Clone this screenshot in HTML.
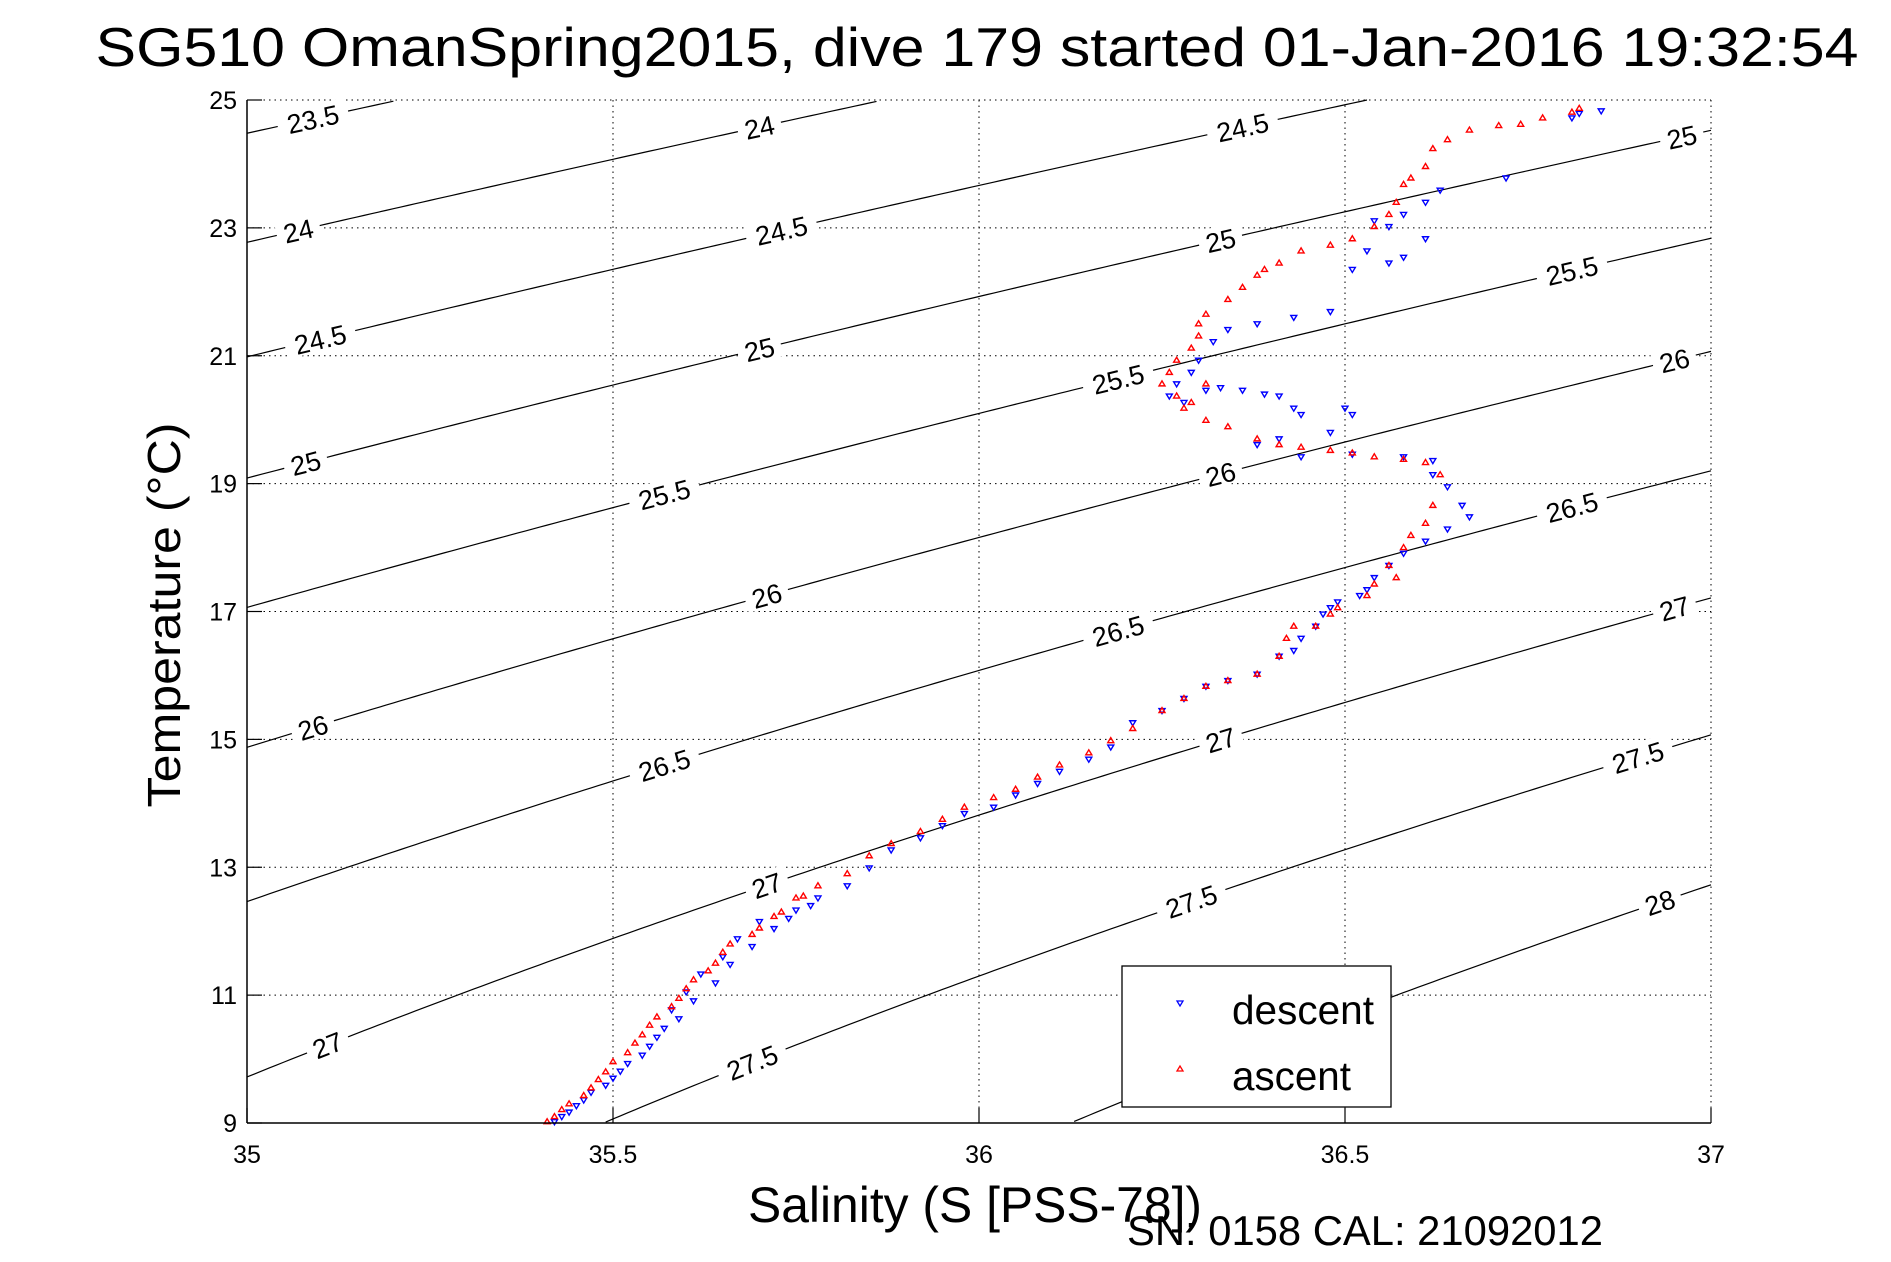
<!DOCTYPE html>
<html><head><meta charset="utf-8"><style>
html,body{margin:0;padding:0;background:#fff;}
svg{display:block;font-family:"Liberation Sans",sans-serif;}
</style></head><body>
<svg id="chart" width="1891" height="1262" viewBox="0 0 1891 1262">
<rect width="1891" height="1262" fill="#fff"/>
<text x="977" y="66" font-size="55" text-anchor="middle" textLength="1763" lengthAdjust="spacingAndGlyphs">SG510 OmanSpring2015, dive 179 started 01-Jan-2016 19:32:54</text>
<g id="grid"></g>
<g id="contours"></g>
<g id="series"></g>
<g id="axes"></g>
<text x="748" y="1222" font-size="50" textLength="454" lengthAdjust="spacingAndGlyphs">Salinity (S [PSS-78])</text>
<text transform="translate(180,615) rotate(-90)" font-size="46" text-anchor="middle" textLength="385" lengthAdjust="spacingAndGlyphs">Temperature (°C)</text>
<text x="1127" y="1245" font-size="42" textLength="476" lengthAdjust="spacingAndGlyphs">SN: 0158  CAL: 21092012</text>
<g>
<rect x="1122" y="966" width="269" height="141" fill="#fff" stroke="#000" stroke-width="1.3"/>
<polygon points="1177,1001 1183,1001 1180,1006" fill="none" stroke="#00f" stroke-width="1.3"/>
<text x="1232" y="1024" font-size="41" textLength="142" lengthAdjust="spacingAndGlyphs">descent</text>
<polygon points="1177,1071 1183,1071 1180,1066" fill="none" stroke="#f00" stroke-width="1.3"/>
<text x="1232" y="1090" font-size="41" textLength="119" lengthAdjust="spacingAndGlyphs">ascent</text>
</g>
</svg>
<script>
const xTicks=[35,35.5,36,36.5,37];
const xTickLabels=["35","35.5","36","36.5","37"];
const yTicks=[9,11,13,15,17,19,21,23,25];
const yTickLabels=["9","11","13","15","17","19","21","23","25"];
const sigmaLevels=[23.5,24,24.5,25,25.5,26,26.5,27,27.5,28];
const sigmaLabelS=[[35.09],[35.07,35.70],[35.10,35.73,36.36],[35.08,35.70,36.33,36.96],[35.57,36.19,36.81],[35.09,35.71,36.33,36.95],[35.57,36.19,36.81],[35.11,35.71,36.33,36.95],[35.69,36.29,36.90],[36.93]];
const descentS=[36.85,36.82,36.81,36.72,36.63,36.61,36.58,36.56,36.54,36.61,36.58,36.56,36.53,36.51,36.48,36.43,36.38,36.34,36.32,36.30,36.29,36.27,36.26,36.28,36.31,36.33,36.36,36.39,36.41,36.43,36.44,36.48,36.50,36.51,36.41,36.38,36.44,36.51,36.58,36.62,36.62,36.64,36.66,36.67,36.64,36.61,36.58,36.56,36.54,36.53,36.52,36.49,36.48,36.47,36.46,36.44,36.43,36.41,36.38,36.34,36.31,36.28,36.25,36.21,36.18,36.15,36.11,36.08,36.05,36.02,35.98,35.95,35.92,35.88,35.85,35.82,35.78,35.75,35.72,35.69,35.66,35.64,35.61,35.59,35.56,35.54,35.51,35.49,35.46,35.44,35.42,
35.43,35.45,35.47,35.50,35.52,35.55,35.57,35.58,35.60,35.62,35.65,35.67,35.70,35.74,35.77];
const descentT=[24.83,24.79,24.72,23.78,23.59,23.40,23.21,23.02,23.11,22.83,22.54,22.45,22.64,22.35,21.69,21.60,21.50,21.41,21.22,20.93,20.74,20.56,20.37,20.27,20.46,20.50,20.46,20.40,20.37,20.18,20.08,19.80,20.18,20.08,19.70,19.61,19.42,19.46,19.42,19.36,19.14,18.95,18.66,18.48,18.29,18.10,17.91,17.72,17.53,17.34,17.25,17.15,17.06,16.96,16.77,16.58,16.39,16.30,16.02,15.92,15.83,15.64,15.45,15.26,14.88,14.69,14.50,14.31,14.13,13.94,13.84,13.65,13.46,13.27,12.99,12.71,12.52,12.33,12.04,11.76,11.48,11.19,10.91,10.63,10.34,10.06,9.81,9.59,9.36,9.17,9.02,
9.10,9.27,9.48,9.70,9.93,10.20,10.48,10.77,11.05,11.33,11.60,11.88,12.15,12.20,12.40];
const ascentS=[36.82,36.81,36.77,36.74,36.71,36.67,36.64,36.62,36.61,36.59,36.58,36.57,36.56,36.54,36.51,36.48,36.44,36.41,36.39,36.38,36.36,36.34,36.31,36.30,36.30,36.29,36.27,36.26,36.25,36.27,36.29,36.31,36.28,36.31,36.34,36.38,36.41,36.44,36.48,36.51,36.54,36.58,36.61,36.63,36.62,36.61,36.59,36.58,36.56,36.57,36.54,36.53,36.49,36.48,36.46,36.43,36.42,36.41,36.38,36.34,36.31,36.28,36.25,36.21,36.18,36.15,36.11,36.08,36.05,36.02,35.98,35.95,35.92,35.88,35.85,35.82,35.78,35.75,35.72,35.69,35.65,35.63,35.60,35.58,35.55,35.53,35.50,35.48,35.46,35.43,35.41,
35.42,35.44,35.47,35.49,35.52,35.54,35.56,35.59,35.61,35.64,35.66,35.70,35.73,35.76];
const ascentT=[24.87,24.81,24.72,24.62,24.60,24.53,24.38,24.24,23.96,23.78,23.68,23.40,23.21,23.02,22.83,22.73,22.64,22.45,22.35,22.26,22.07,21.88,21.65,21.50,21.31,21.12,20.93,20.74,20.56,20.37,20.27,20.56,20.18,19.99,19.89,19.70,19.61,19.57,19.52,19.48,19.42,19.38,19.33,19.14,18.66,18.38,18.19,18.00,17.72,17.53,17.43,17.25,17.06,16.96,16.77,16.77,16.58,16.30,16.02,15.92,15.83,15.64,15.45,15.17,14.98,14.79,14.60,14.41,14.22,14.09,13.94,13.75,13.56,13.37,13.18,12.90,12.71,12.52,12.23,11.95,11.67,11.38,11.10,10.82,10.53,10.25,9.96,9.68,9.43,9.21,9.02,
9.10,9.30,9.55,9.80,10.10,10.38,10.66,10.95,11.24,11.50,11.80,12.05,12.30,12.55];

const NS='http://www.w3.org/2000/svg';
const L=247,R=1711,TOP=100,B=1123;
const xS=s=>L+(s-35)/2*(R-L);
const yT=t=>TOP+(25-t)/16*(B-TOP);
function mk(tag,attrs,parent){const e=document.createElementNS(NS,tag);for(const k in attrs)e.setAttribute(k,attrs[k]);parent.appendChild(e);return e;}
function sigma(S,T){
 const rw=999.842594+6.793952e-2*T-9.095290e-3*T*T+1.001685e-4*T**3-1.120083e-6*T**4+6.536332e-9*T**5;
 const A=8.24493e-1-4.0899e-3*T+7.6438e-5*T*T-8.2467e-7*T**3+5.3875e-9*T**4;
 const Bc=-5.72466e-3+1.0227e-4*T-1.6546e-6*T*T;
 return rw+A*S+Bc*Math.pow(S,1.5)+4.8314e-4*S*S-1000;
}
function solveT(S,sig){let lo=-5,hi=40;for(let i=0;i<50;i++){const m=(lo+hi)/2;if(sigma(S,m)>sig)lo=m;else hi=m;}return (lo+hi)/2;}

const grid=document.getElementById('grid');
xTicks.forEach((v,i)=>{if(i>0){const g=mk('line',{x1:xS(v),x2:xS(v),y1:TOP,y2:B,stroke:'#000','stroke-width':1,'stroke-dasharray':'1.5 4'},grid);}});
yTicks.forEach((v,i)=>{if(i>0){const g=mk('line',{x1:L,x2:R,y1:yT(v),y2:yT(v),stroke:'#000','stroke-width':1,'stroke-dasharray':'1.5 4'},grid);}});

const cg=document.getElementById('contours');
sigmaLevels.forEach((lev,li)=>{
 let pts=[];
 for(let s=35;s<=37.0001;s+=0.01){const t=solveT(s,lev);if(t>=9&&t<=25)pts.push([xS(s),yT(t)]);}
 const p=mk('polyline',{points:pts.map(q=>q.join(',')).join(' '),fill:'none',stroke:'#000','stroke-width':1.2},cg);
 
 
 sigmaLabelS[li].forEach(s=>{
  const t=solveT(s,lev);const x=xS(s),y=yT(t);
  const t2=solveT(s+0.01,lev);const ang=Math.atan2(yT(t2)-y,xS(s+0.01)-x)*180/Math.PI;
  const txt=String(lev);const w=txt.length*14+16;
  const g=mk('g',{transform:`translate(${x},${y}) rotate(${ang})`},cg);
  
  
  mk('rect',{x:-w/2,y:-14,width:w,height:26,fill:'#fff'},g);
  const te=mk('text',{x:0,y:10,'font-size':27,'text-anchor':'middle'},g);
  te.textContent=txt;
 });
});

const sg=document.getElementById('series');
descentS.forEach((s,i)=>{const x=xS(s),y=yT(descentT[i]);
 const m=mk('polygon',{points:`${x-3},${y-2} ${x+3},${y-2} ${x},${y+3}`,fill:'none',stroke:'#00f','stroke-width':1.4},sg);
 
 });
ascentS.forEach((s,i)=>{const x=xS(s),y=yT(ascentT[i]);
 const m=mk('polygon',{points:`${x-3},${y+2} ${x+3},${y+2} ${x},${y-3}`,fill:'none',stroke:'#f00','stroke-width':1.4},sg);
 
 });

const ax=document.getElementById('axes');
const xa=mk('line',{x1:L,x2:R,y1:B,y2:B,stroke:'#000','stroke-width':1.5},ax);


const ya=mk('line',{x1:L,x2:L,y1:TOP,y2:B,stroke:'#000','stroke-width':1.5},ax);


xTicks.forEach((v,i)=>{
 mk('line',{x1:xS(v),x2:xS(v),y1:B,y2:B-15,stroke:'#000','stroke-width':1.2},ax);
 const t=mk('text',{x:xS(v),y:1163,'font-size':25,'text-anchor':'middle'},ax);
 t.textContent=xTickLabels[i];
 
 
});
yTicks.forEach((v,i)=>{
 mk('line',{x1:L,x2:L+15,y1:yT(v),y2:yT(v),stroke:'#000','stroke-width':1.2},ax);
 const t=mk('text',{x:237,y:yT(v)+9,'font-size':25,'text-anchor':'end'},ax);
 t.textContent=yTickLabels[i];
 
 
});
</script>
</body></html>
